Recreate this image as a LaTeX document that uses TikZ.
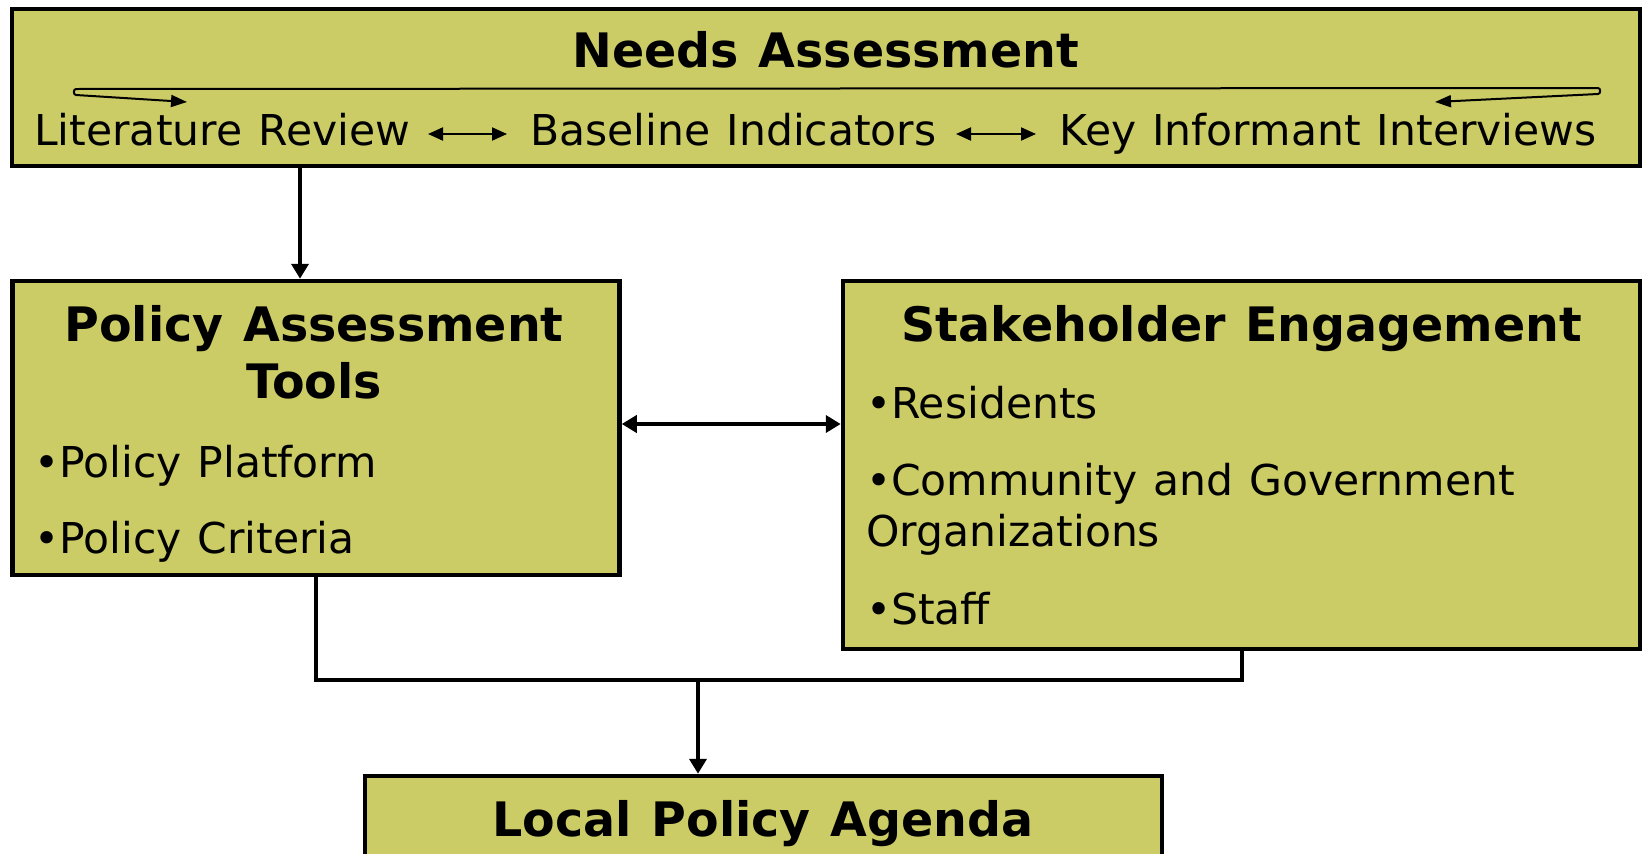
\documentclass[tikz,border=0pt]{standalone}
\usepackage{fontspec}
\setmainfont{DejaVu Sans}[WordSpace=1.2]
\usetikzlibrary{arrows.meta}
\definecolor{boxfill}{RGB}{204,204,102}
\begin{document}
\begin{tikzpicture}[x=1pt,y=-1pt,
  box/.style={draw=black,fill=boxfill,line width=4.5pt,inner sep=0pt,rectangle},
  ttl/.style={inner sep=0pt,anchor=base,font=\fontsize{47.5}{56}\selectfont\bfseries},
  itm/.style={inner sep=0pt,anchor=base west,font=\fontsize{42.5}{50}\selectfont},
  conn/.style={line width=4pt,-{Triangle[length=15pt,width=17pt]}},
  dconn/.style={line width=4pt,{Triangle[length=15pt,width=17pt]}-{Triangle[length=15pt,width=17pt]}},
  small/.style={line width=2pt,{Triangle[length=15pt,width=13pt]}-{Triangle[length=15pt,width=13pt]}},
  loopa/.style={line width=2pt,{Triangle[length=16pt,width=12pt]}-{Triangle[length=16pt,width=12pt]}}
]
\clip (0,0) rectangle (1644,854);
\fill[white] (0,0) rectangle (1644,854);
% boxes
\node[box,minimum width=1628pt,minimum height=157pt] (top) at (826,87.5) {};
\node[box,minimum width=607pt,minimum height=294pt] (left) at (316,428) {};
\node[box,minimum width=797pt,minimum height=368pt] (right) at (1241.5,465) {};
\node[box,minimum width=797pt,minimum height=110pt] (bot) at (763.5,831) {};
% top texts
\node[ttl] (t1) at (826,67) {Needs Assessment};
\node[itm] (lit) at (34,145) {Literature Review};
\node[itm] (base) at (530,145) {Baseline Indicators};
\node[itm] (key) at (1059,145) {Key Informant Interviews};
\coordinate (a1) at (428,134);
\coordinate (a2) at (507,134);
\coordinate (a3) at (956,134);
\coordinate (a4) at (1036,134);
\draw[small] (a1) -- (a2);
\draw[small] (a3) -- (a4);
% looping arrow
\coordinate (lt) at (187,102);
\coordinate (l1) at (76,95);
\coordinate (l2) at (76,89);
\coordinate (r2) at (1598,88);
\coordinate (r1) at (1598,94);
\coordinate (rt) at (1435,102);
\draw[loopa]
  (lt) -- (l1) to[out=180,in=180,looseness=1.2] (l2) -- (r2) to[out=0,in=0,looseness=1.2] (r1) -- (rt);
% left box texts
\node[ttl] (p1) at (314,341) {Policy Assessment};
\node[ttl] (p2) at (314,398) {Tools};
\node[itm] (pp) at (34,477) {•Policy Platform};
\node[itm] (pc) at (34,553) {•Policy Criteria};
% right box texts
\node[ttl] (s1) at (1242,341) {Stakeholder Engagement};
\node[itm] (sr) at (866,418) {•Residents};
\node[itm] (sc) at (866,495) {•Community and Government};
\node[itm] (so) at (866,546) {Organizations};
\node[itm] (ss) at (866,624) {•Staff};
% bottom text
\node[ttl] (b1) at (763,836) {Local Policy Agenda};
% connectors
\coordinate (ax) at (300,0);
\draw[conn] (top.south -| ax) -- (left.north -| ax);
\coordinate (mid) at (0,424);
\draw[dconn] (left.east |- mid) -- (right.west |- mid);
\coordinate (j) at (698,679.5);
\draw[line width=4pt] (left.south) -- (left.south |- j) -- (right.south |- j) -- (right.south);
\draw[conn] (j) -- (bot.north -| j);
\end{tikzpicture}
\end{document}
